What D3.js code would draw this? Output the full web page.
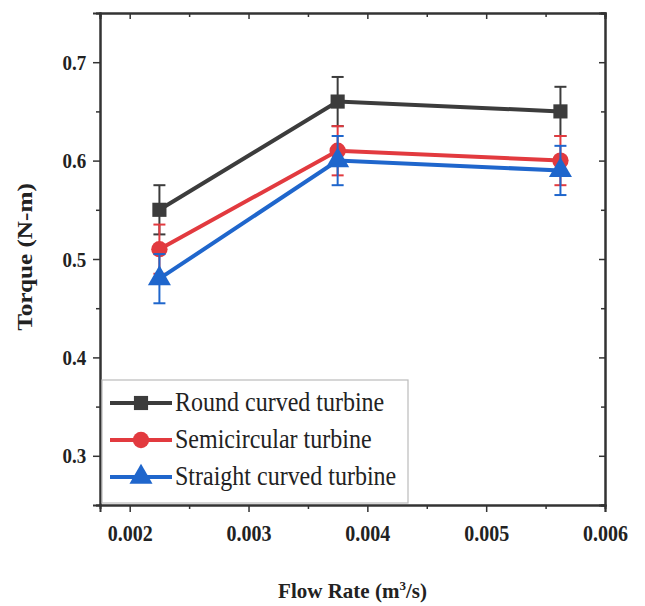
<!DOCTYPE html>
<html>
<head>
<meta charset="utf-8">
<script src="https://cdn.jsdelivr.net/npm/d3@7"></script>
<style>
  body { margin: 0; background: #fff; }
  text { font-family: "Liberation Serif", "DejaVu Serif", serif; }
</style>
</head>
<body>
<svg id="canvas" width="645" height="606"></svg>
<script>
// data
const flowRates = [0.00225, 0.00375, 0.005625];
const seriesNames = ["Round curved turbine", "Semicircular turbine", "Straight curved turbine"];
const roundTorque = [0.55, 0.66, 0.65];
const semiTorque = [0.51, 0.61, 0.60];
const straightTorque = [0.48, 0.60, 0.59];
const roundErr = [0.025, 0.025, 0.025];
const semiErr = [0.025, 0.025, 0.025];
const straightErr = [0.025, 0.025, 0.025];
const xTicks = [0.002, 0.003, 0.004, 0.005, 0.006];
const yTicks = [0.3, 0.4, 0.5, 0.6, 0.7];
const xMinor = [0.0025, 0.0035, 0.0045, 0.0055];
const yMinor = [0.25, 0.35, 0.45, 0.55, 0.65, 0.75];

const colors = ["#3c3c3c", "#e23a3f", "#1f66cc"];
const shapes = [d3.symbolSquare, d3.symbolCircle, d3.symbolTriangle];
const symSizes = [200, 210, 230];

const margin = { top: 13, right: 40, bottom: 101, left: 100 };
const width = 645 - margin.left - margin.right;
const height = 606 - margin.top - margin.bottom;
const stretch = "scale(1,1.15)"; // the picture's text is a bit taller than wide

const svg = d3.select("#canvas");
const g = svg.append("g").attr("transform", `translate(${margin.left},${margin.top})`);

const x = d3.scaleLinear().domain([0.00175, 0.006]).range([0, width]);
const y = d3.scaleLinear().domain([0.25, 0.75]).range([height, 0]);

const errs = [roundErr, semiErr, straightErr];
const series = [roundTorque, semiTorque, straightTorque].map((vals, i) => ({
  name: seriesNames[i],
  color: colors[i],
  shape: shapes[i],
  size: symSizes[i],
  points: vals.map((v, j) => ({ x: flowRates[j], y: v, e: errs[i][j] })),
}));

// axes
const axisColor = "#333";
const xAxis = g.append("g").attr("transform", `translate(0,${height})`)
  .call(d3.axisBottom(x).tickValues(xTicks).tickSize(7).tickFormat(d3.format(".3f")));
const yAxis = g.append("g")
  .call(d3.axisLeft(y).tickValues(yTicks).tickSize(7).tickFormat(d3.format(".1f")));
g.append("g").attr("transform", `translate(0,${height})`)
  .call(d3.axisBottom(x).tickValues(xMinor).tickSize(4).tickFormat(""));
g.append("g")
  .call(d3.axisLeft(y).tickValues(yMinor).tickSize(4).tickFormat(""));
// mirrored inward ticks on top and right
g.append("g")
  .call(d3.axisTop(x).tickValues(xTicks).tickSize(-6).tickFormat(""));
g.append("g")
  .call(d3.axisTop(x).tickValues(xMinor).tickSize(-4).tickFormat(""));
g.append("g").attr("transform", `translate(${width},0)`)
  .call(d3.axisRight(y).tickValues(yTicks).tickSize(-6).tickFormat(""));
g.append("g").attr("transform", `translate(${width},0)`)
  .call(d3.axisRight(y).tickValues(yMinor).tickSize(-4).tickFormat(""));

g.selectAll(".domain").attr("stroke", axisColor).attr("stroke-width", 2);
g.selectAll(".tick line").attr("stroke", axisColor).attr("stroke-width", 1.5);
xAxis.selectAll(".tick text").attr("y", 0).attr("dy", "1.55em").attr("transform", stretch)
  .style("font-size", "20px").style("font-weight", "bold").attr("fill", "#222");
yAxis.selectAll(".tick text").attr("dx", "-0.2em").attr("transform", stretch)
  .style("font-size", "19px").style("font-weight", "bold").attr("fill", "#222");

// axis titles
const xt = svg.append("text")
  .attr("x", margin.left + width / 2)
  .attr("y", 598)
  .attr("text-anchor", "middle")
  .style("font-size", "21px").style("font-weight", "bold").attr("fill", "#222");
xt.append("tspan").text("Flow Rate (m");
xt.append("tspan").attr("dy", -8).style("font-size", "13px").text("3");
xt.append("tspan").attr("dy", 8).text("/s)");

svg.append("text")
  .attr("transform", "translate(32,257) scale(1,1.2) rotate(-90)")
  .attr("text-anchor", "middle")
  .style("font-size", "21px").style("font-weight", "bold").attr("fill", "#222")
  .text("Torque (N-m)");

// lines, error bars, markers
const line = d3.line().x((d) => x(d.x)).y((d) => y(d.y));
const sg = g.selectAll(".series").data(series).enter().append("g").attr("class", "series");

sg.append("path")
  .attr("d", (d) => line(d.points))
  .attr("fill", "none")
  .attr("stroke", (d) => d.color)
  .attr("stroke-width", 4);

sg.each(function (s) {
  const eb = d3.select(this).selectAll(".err").data(s.points).enter().append("g");
  eb.append("line")
    .attr("x1", (d) => x(d.x)).attr("x2", (d) => x(d.x))
    .attr("y1", (d) => y(d.y - d.e)).attr("y2", (d) => y(d.y + d.e))
    .attr("stroke", s.color).attr("stroke-width", 2);
  [1, -1].forEach((sign) => {
    eb.append("line")
      .attr("x1", (d) => x(d.x) - 6).attr("x2", (d) => x(d.x) + 6)
      .attr("y1", (d) => y(d.y + sign * d.e)).attr("y2", (d) => y(d.y + sign * d.e))
      .attr("stroke", s.color).attr("stroke-width", 2);
  });
  d3.select(this).selectAll(".mark").data(s.points).enter().append("path")
    .attr("d", d3.symbol().type(s.shape).size(s.size))
    .attr("transform", (d) => `translate(${x(d.x)},${y(d.y)})`)
    .attr("fill", s.color);
});

// legend
const lg = g.append("g").attr("transform", "translate(2,367)");
lg.append("rect")
  .attr("width", 306).attr("height", 123)
  .attr("fill", "#fff").attr("stroke", "#bbb").attr("stroke-width", 1.2);
const items = lg.selectAll(".item").data(series).enter().append("g")
  .attr("transform", (d, i) => `translate(0,${23 + i * 37})`);
items.append("line")
  .attr("x1", 8).attr("x2", 70)
  .attr("stroke", (d) => d.color).attr("stroke-width", 4);
items.append("path")
  .attr("d", (d) => d3.symbol().type(d.shape).size(d.size)())
  .attr("transform", "translate(39,0)")
  .attr("fill", (d) => d.color);
items.append("text")
  .attr("transform", `translate(73,8) ${stretch}`)
  .style("font-size", "24px").attr("fill", "#222")
  .text((d) => d.name);
</script>
</body>
</html>
